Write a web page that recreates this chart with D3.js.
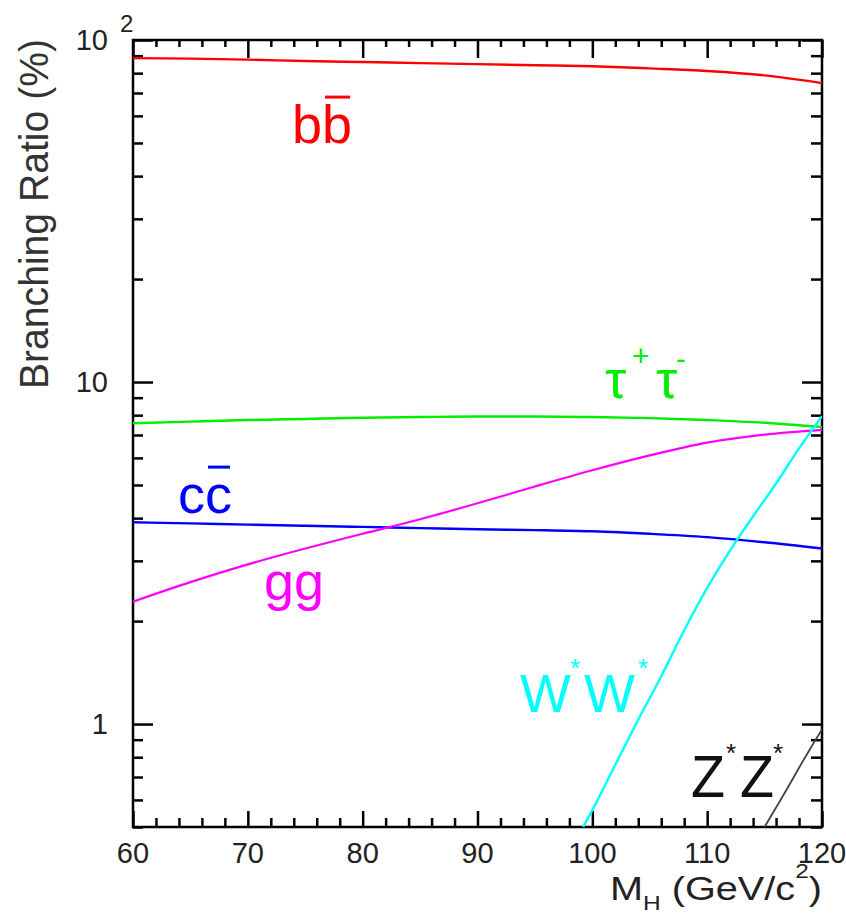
<!DOCTYPE html>
<html>
<head>
<meta charset="utf-8">
<script src="https://cdn.jsdelivr.net/npm/d3@7"></script>
<style>
  html, body { margin: 0; padding: 0; background: #fff; }
  svg { display: block; }
  text { font-family: "Liberation Sans", Arial, Helvetica, sans-serif; }
</style>
</head>
<body>
<svg id="chart" width="846" height="924"></svg>
<script>
// Higgs boson branching ratios (%) versus mass M_H (GeV/c^2)
const mass = [60, 65, 70, 75, 80, 85, 90, 95, 100, 105, 110, 115, 120];
const brBB = [88.5, 88.2, 87.6, 86.8, 86.2, 85.6, 85.0, 84.4, 83.8, 82.6, 81.2, 78.8, 74.8];
const brTauTau = [7.58, 7.66, 7.74, 7.8, 7.86, 7.9, 7.93, 7.93, 7.9, 7.84, 7.74, 7.6, 7.38];
const brCC = [3.89, 3.86, 3.83, 3.8, 3.77, 3.74, 3.71, 3.69, 3.66, 3.6, 3.52, 3.4, 3.26];
const brGG = [2.28, 2.6, 2.93, 3.26, 3.6, 3.97, 4.42, 4.95, 5.52, 6.1, 6.65, 7.02, 7.25];
const massWW = [99.2, 100, 102, 104, 106, 108, 110, 112, 114, 116, 118, 120];
const brWW = [0.5, 0.56, 0.76, 1.03, 1.38, 1.88, 2.5, 3.22, 4.05, 5.05, 6.4, 7.95];
const massZZ = [115, 116, 117, 118, 119, 120];
const brZZ = [0.5, 0.57, 0.65, 0.745, 0.85, 0.965];

const xMajorTicks = [60, 70, 80, 90, 100, 110, 120];
const xMinorTicks = [62, 64, 66, 68, 72, 74, 76, 78, 82, 84, 86, 88, 92, 94, 96, 98,
                     102, 104, 106, 108, 112, 114, 116, 118];
const yMajorTicks = [1, 10, 100];
const yTickLabels = ["1", "10", "10"];
const yMinorTicks = [0.5, 0.6, 0.7, 0.8, 0.9, 2, 3, 4, 5, 6, 7, 8, 9,
                     20, 30, 40, 50, 60, 70, 80, 90];

const svg = d3.select("#chart");
const plotL = 133, plotR = 822, plotT = 40, plotB = 827;

const x = d3.scaleLinear().domain([60, 120]).range([plotL, plotR]);
const y = d3.scaleLog().domain([0.5, 100]).range([plotB, plotT]);

svg.append("defs").append("clipPath").attr("id", "plotArea")
  .append("rect").attr("x", plotL).attr("y", plotT)
  .attr("width", plotR - plotL).attr("height", plotB - plotT);

// ---- axes (ticks point inward on all four sides) ----
function styleAxis(g) {
  g.select(".domain").remove();
  g.selectAll(".tick line").attr("stroke", "#000").attr("stroke-width", 2.5);
  g.selectAll(".tick text").remove();
}
svg.append("g").attr("transform", `translate(${plotL},0)`)
  .call(d3.axisLeft(y).tickValues(yMajorTicks).tickSize(-20)).call(styleAxis);
svg.append("g").attr("transform", `translate(${plotL},0)`)
  .call(d3.axisLeft(y).tickValues(yMinorTicks).tickSize(-10)).call(styleAxis);
svg.append("g").attr("transform", `translate(${plotR},0)`)
  .call(d3.axisRight(y).tickValues(yMajorTicks).tickSize(-20)).call(styleAxis);
svg.append("g").attr("transform", `translate(${plotR},0)`)
  .call(d3.axisRight(y).tickValues(yMinorTicks).tickSize(-11)).call(styleAxis);
svg.append("g").attr("transform", `translate(0,${plotB})`)
  .call(d3.axisBottom(x).tickValues(xMajorTicks).tickSize(-16)).call(styleAxis);
svg.append("g").attr("transform", `translate(0,${plotB})`)
  .call(d3.axisBottom(x).tickValues(xMinorTicks).tickSize(-9)).call(styleAxis);
svg.append("g").attr("transform", `translate(0,${plotT})`)
  .call(d3.axisTop(x).tickValues(xMajorTicks).tickSize(-18)).call(styleAxis);
svg.append("g").attr("transform", `translate(0,${plotT})`)
  .call(d3.axisTop(x).tickValues(xMinorTicks).tickSize(-7)).call(styleAxis);

// frame
svg.append("rect")
  .attr("x", plotL).attr("y", plotT)
  .attr("width", plotR - plotL).attr("height", plotB - plotT)
  .attr("fill", "none").attr("stroke", "#000").attr("stroke-width", 2.5);

// ---- tick labels ----
svg.append("g").selectAll("text").data(xMajorTicks).join("text")
  .attr("x", d => x(d)).attr("y", plotB + 36)
  .attr("text-anchor", "middle")
  .attr("font-size", 29).attr("fill", "#222")
  .text(d => d);

svg.append("g").selectAll("text").data(yMajorTicks).join("text")
  .attr("x", plotL - 25).attr("y", d => y(d) + 10)
  .attr("text-anchor", "end")
  .attr("font-size", 29).attr("fill", "#222")
  .text((d, i) => yTickLabels[i]);
// exponent of the top decade label
svg.append("text")
  .attr("x", plotL - 13).attr("y", y(100) - 8)
  .attr("font-size", 24).attr("fill", "#222")
  .text("2");

// ---- axis titles ----
svg.append("text")
  .attr("transform", `translate(48,${(plotT + 388) / 2}) rotate(-90)`)
  .attr("text-anchor", "middle")
  .attr("font-size", 40).attr("fill", "#333")
  .attr("textLength", 350).attr("lengthAdjust", "spacingAndGlyphs")
  .text("Branching Ratio (%)");

const xTitle = svg.append("text")
  .attr("x", 610).attr("y", 900)
  .attr("font-size", 34).attr("fill", "#222")
  .attr("textLength", 212).attr("lengthAdjust", "spacingAndGlyphs");
xTitle.append("tspan").text("M");
xTitle.append("tspan").attr("font-size", 21).attr("dy", 10).text("H");
xTitle.append("tspan").attr("dy", -10).text(" (GeV/c");
xTitle.append("tspan").attr("font-size", 21).attr("dy", -22).text("2");
xTitle.append("tspan").attr("dy", 22).text(")");

// ---- curves ----
const plot = svg.append("g").attr("clip-path", "url(#plotArea)");
const line = d3.line()
  .x(d => x(d[0])).y(d => y(d[1]))
  .curve(d3.curveMonotoneX);

const series = [
  { m: mass, v: brBB, color: "#ff0000", w: 2.4 },
  { m: mass, v: brTauTau, color: "#00ee00", w: 2.4 },
  { m: mass, v: brCC, color: "#0000ff", w: 2.4 },
  { m: mass, v: brGG, color: "#ff00ff", w: 2.2 },
  { m: massWW, v: brWW, color: "#00ffff", w: 2.4 },
  { m: massZZ, v: brZZ, color: "#444444", w: 1.8 }
];
series.forEach(s => {
  plot.append("path")
    .datum(s.m.map((m, i) => [m, s.v[i]]))
    .attr("d", line)
    .attr("fill", "none")
    .attr("stroke", s.color)
    .attr("stroke-width", s.w);
});

// ---- curve labels ----
function barLabel(xPos, yPos, str, color, size) {
  const t = svg.append("text")
    .attr("x", xPos).attr("y", yPos)
    .attr("font-size", size).attr("fill", color)
    .text(str);
  const node = t.node();
  const x0 = node.getStartPositionOfChar(1).x;
  const x1 = node.getEndPositionOfChar(1).x;
  svg.append("line")
    .attr("x1", x0 + 3).attr("x2", x1 - 2)
    .attr("y1", yPos - size * 0.85).attr("y2", yPos - size * 0.85)
    .attr("stroke", color).attr("stroke-width", 3);
}
barLabel(292, 143, "bb", "#ff0000", 54);
barLabel(178, 513, "cc", "#0000ff", 54);

svg.append("text")
  .attr("x", 264).attr("y", 600)
  .attr("font-size", 54).attr("fill", "#ff00ff")
  .text("gg");

// tau+ tau-
const tau = svg.append("g").attr("fill", "#00ee00");
tau.append("text").attr("x", 605).attr("y", 398).attr("font-size", 54).text("τ");
tau.append("text").attr("x", 632).attr("y", 366).attr("font-size", 30).text("+");
tau.append("text").attr("x", 656).attr("y", 398).attr("font-size", 54).text("τ");
tau.append("text").attr("x", 676).attr("y", 369).attr("font-size", 30).text("-");

// W*W*
const ww = svg.append("g").attr("fill", "#00ffff");
ww.append("text").attr("x", 520).attr("y", 712).attr("font-size", 54).text("W");
ww.append("text").attr("x", 570).attr("y", 677).attr("font-size", 26).text("*");
ww.append("text").attr("x", 584).attr("y", 712).attr("font-size", 54).text("W");
ww.append("text").attr("x", 638).attr("y", 677).attr("font-size", 26).text("*");

// Z*Z*
const zz = svg.append("g").attr("fill", "#111");
zz.append("text").attr("x", 691).attr("y", 797).attr("font-size", 60)
  .attr("textLength", 34).attr("lengthAdjust", "spacingAndGlyphs").text("Z");
zz.append("text").attr("x", 726).attr("y", 762).attr("font-size", 26).text("*");
zz.append("text").attr("x", 740).attr("y", 797).attr("font-size", 60)
  .attr("textLength", 34).attr("lengthAdjust", "spacingAndGlyphs").text("Z");
zz.append("text").attr("x", 773).attr("y", 762).attr("font-size", 26).text("*");
</script>
</body>
</html>
